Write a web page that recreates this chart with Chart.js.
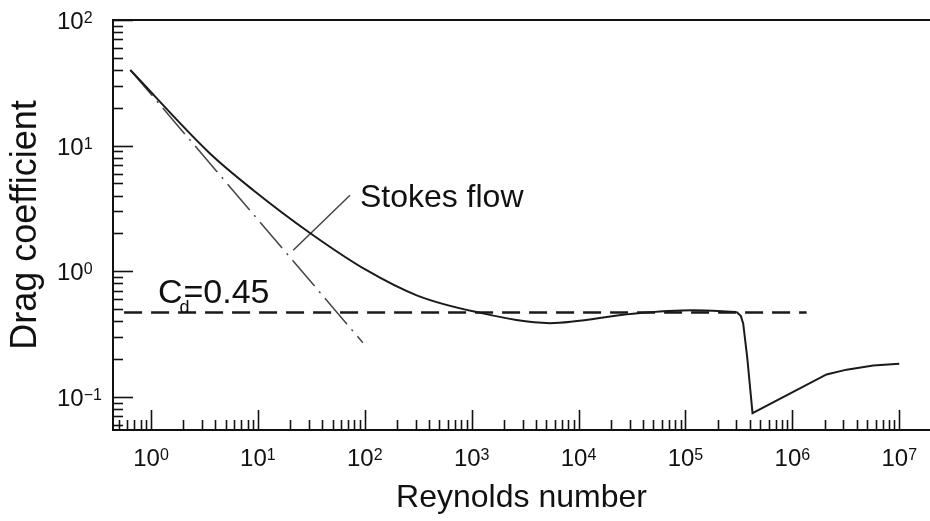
<!DOCTYPE html>
<html><head><meta charset="utf-8">
<script src="https://cdn.jsdelivr.net/npm/chart.js@4/dist/chart.umd.min.js"></script>
<style>html,body{margin:0;padding:0;background:#fff;}#wrap{width:930px;height:521px;}</style>
</head><body><div id="wrap"><canvas id="c" width="930" height="521"></canvas></div>
<script>
// ---- data ----
const reCurve = [0.64, 3.56, 9.06, 30.7, 104, 306, 1110, 5400, 32300, 117000, 301000];
const cdCurve = [40, 8.66, 4.42, 2.02, 1.02, 0.644, 0.474, 0.387, 0.46, 0.489, 0.474];
const reDrop = [301000, 330000, 347000, 378000, 424000, 2090000, 3220000, 5710000, 10000000];
const cdDrop = [0.474, 0.44, 0.383, 0.208, 0.0743, 0.151, 0.165, 0.178, 0.184];
const reStokes = [0.64, 96];
const cdStokes = [40, 0.27];
const reConst = [0.56, 1360000];
const cdConst = [0.47, 0.47];
const reLeader = [21.4, 72.7];
const cdLeader = [1.47, 4.03];
const xTickValues = [1, 10, 100, 1000, 10000, 100000, 1000000, 10000000];
const xTickExponents = ['0', '1', '2', '3', '4', '5', '6', '7'];
const yTickValues = [0.1, 1, 10, 100];
const yTickExponents = ['-1', '0', '1', '2'];
const tickBase = '10';
const xTitle = 'Reynolds number';
const yTitle = 'Drag coefficient';
const stokesLabel = 'Stokes flow';

const FONT = '"Liberation Sans", Arial, Helvetica, sans-serif';
const toXY = (xs, ys) => xs.map((x, i) => ({x: x, y: ys[i]}));

const innerTicks = {
  id: 'innerTicks',
  afterDraw(chart) {
    const ctx = chart.ctx, a = chart.chartArea;
    const xs = chart.scales.x, ys = chart.scales.y;
    ctx.save();
    ctx.strokeStyle = '#111';
    ctx.lineWidth = 2;
    ctx.beginPath(); ctx.moveTo(a.left - 1, a.top); ctx.lineTo(a.right, a.top); ctx.stroke();
    ctx.lineWidth = 1.6;
    for (let k = -2; k <= 8; k++) {
      for (let m = 1; m <= 9; m++) {
        const v = m * Math.pow(10, k);
        const len = m === 1 ? 20 : 10;
        if (v >= xs.min && v <= xs.max) {
          const px = Math.round(xs.getPixelForValue(v)) + 0.5;
          ctx.beginPath(); ctx.moveTo(px, a.bottom); ctx.lineTo(px, a.bottom - len); ctx.stroke();
        }
        if (v >= ys.min && v <= ys.max) {
          const py = Math.round(ys.getPixelForValue(v)) + 0.5;
          ctx.beginPath(); ctx.moveTo(a.left, py); ctx.lineTo(a.left + len, py); ctx.stroke();
        }
      }
    }
    // tick labels: "10" with raised exponent
    ctx.fillStyle = '#111';
    ctx.textBaseline = 'alphabetic';
    ctx.textAlign = 'left';
    const baseFont = '24px ' + FONT, supFont = '16px ' + FONT;
    xTickValues.forEach((v, i) => {
      ctx.font = baseFont; const wb = ctx.measureText(tickBase).width;
      ctx.font = supFont; const we = ctx.measureText(xTickExponents[i]).width;
      const cx = xs.getPixelForValue(v);
      const left = cx - (wb + we) / 2;
      const by = a.bottom + 36;
      ctx.font = baseFont; ctx.fillText(tickBase, left, by);
      ctx.font = supFont; ctx.fillText(xTickExponents[i], left + wb, by - 6);
    });
    yTickValues.forEach((v, i) => {
      const cy = ys.getPixelForValue(v);
      const left = 57;
      const by = cy + 9;
      ctx.font = baseFont; const wb = ctx.measureText(tickBase).width;
      ctx.fillText(tickBase, left, by);
      ctx.font = supFont; ctx.fillText(yTickExponents[i].replace('-', '\u2212'), left + wb, by - 6);
    });
    ctx.restore();
  }
};

const labels = {
  id: 'labels',
  afterDatasetsDraw(chart) {
    const ctx = chart.ctx, xs = chart.scales.x, ys = chart.scales.y;
    ctx.save();
    ctx.fillStyle = '#111';
    ctx.textBaseline = 'alphabetic';
    ctx.textAlign = 'left';
    ctx.font = '32px ' + FONT;
    ctx.fillText(stokesLabel, xs.getPixelForValue(90), ys.getPixelForValue(3.24));
    const x0 = xs.getPixelForValue(1.16), y0 = ys.getPixelForValue(0.556);
    ctx.font = '34px ' + FONT;
    ctx.fillText('C', x0, y0);
    const wC = ctx.measureText('C').width;
    ctx.font = '18px ' + FONT;
    ctx.fillText('d', x0 + wC - 3, y0 + 10);
    ctx.font = '34px ' + FONT;
    ctx.fillText('=0.45', x0 + wC + 1, y0);
    ctx.restore();
  }
};

new Chart(document.getElementById('c'), {
  type: 'line',
  data: {
    datasets: [
      {data: toXY(reCurve, cdCurve), borderColor: '#1a1a1a', borderWidth: 2, pointRadius: 0, cubicInterpolationMode: 'monotone', fill: false},
      {data: toXY(reDrop, cdDrop), borderColor: '#1a1a1a', borderWidth: 2, pointRadius: 0, tension: 0, fill: false},
      {data: toXY(reStokes, cdStokes), borderColor: '#444', borderWidth: 1.5, pointRadius: 0, borderDash: [34, 7, 2, 7], fill: false},
      {data: toXY(reConst, cdConst), borderColor: '#1a1a1a', borderWidth: 2.5, pointRadius: 0, borderDash: [18, 9], fill: false},
      {data: toXY(reLeader, cdLeader), borderColor: '#444', borderWidth: 1.5, pointRadius: 0, fill: false}
    ]
  },
  options: {
    responsive: false,
    animation: false,
    events: [],
    layout: {padding: {top: 20, right: 0, left: 0, bottom: 0}},
    plugins: {legend: {display: false}, tooltip: {enabled: false}},
    scales: {
      x: {
        type: 'logarithmic', position: 'bottom', min: 0.441, max: 19400000,
        grid: {display: false, drawTicks: false},
        border: {display: true, color: '#111', width: 2},
        afterFit: s => { s.height = 91; },
        ticks: {display: false},
        title: {display: true, text: xTitle, color: '#111', font: {family: FONT, size: 32}, padding: {top: 0, bottom: 4}}
      },
      y: {
        type: 'logarithmic', position: 'left', min: 0.0546, max: 100,
        grid: {display: false, drawTicks: false},
        border: {display: true, color: '#111', width: 2},
        afterFit: s => { s.width = 113; },
        ticks: {display: false},
        title: {display: true, text: yTitle, color: '#111', font: {family: FONT, size: 36}, padding: {top: 4, bottom: 0}}
      }
    }
  },
  plugins: [innerTicks, labels]
});
</script></body></html>
